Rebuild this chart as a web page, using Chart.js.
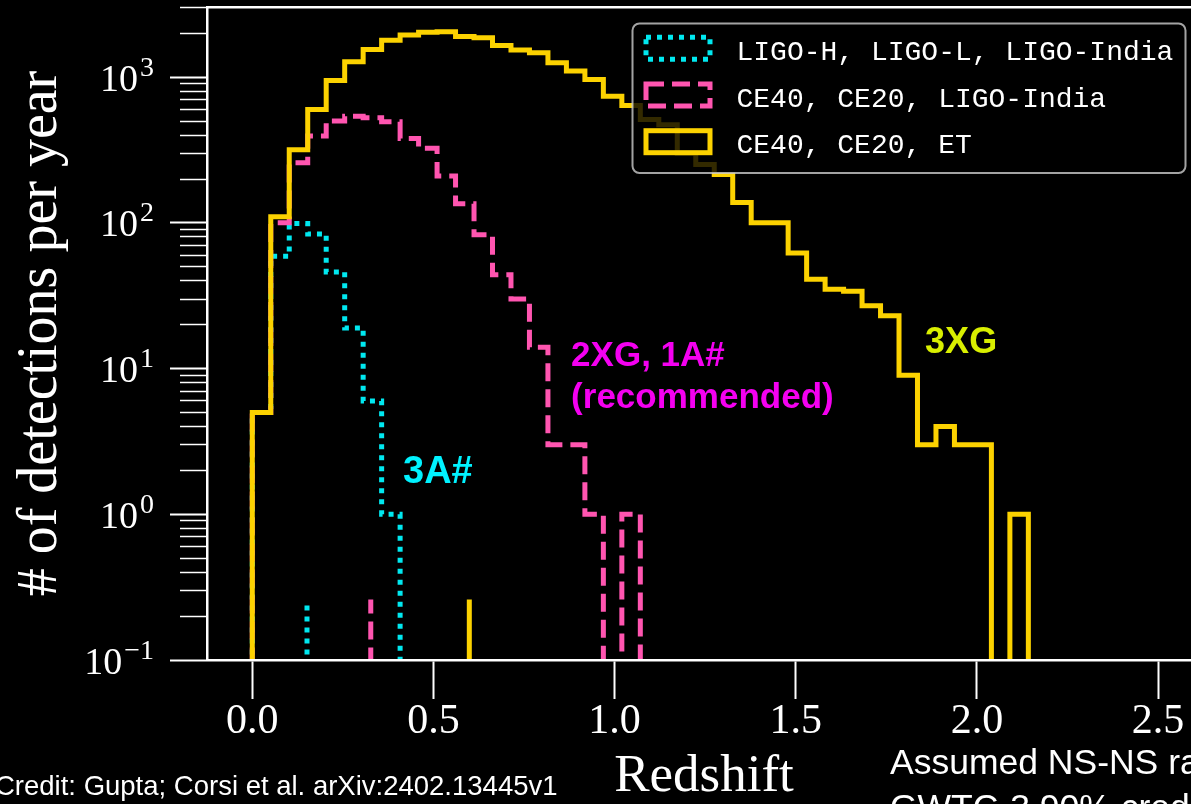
<!DOCTYPE html>
<html lang="en">
<head>
<meta charset="utf-8">
<title>Detections per year vs redshift</title>
<script src="https://cdn.jsdelivr.net/npm/chart.js@4.4.1/dist/chart.umd.min.js"></script>
<style>
  html, body { margin: 0; padding: 0; background: #000; overflow: hidden; }
  canvas { display: block; }
</style>
</head>
<body>
<canvas id="hist" width="1201" height="804"></canvas>
<script>
// Redshift bin edges: 42 equal-width bins
const BIN_EDGES = [
  0.000, 0.051, 0.102, 0.153, 0.204, 0.255, 0.306, 0.357, 0.408, 0.459,
  0.510, 0.561, 0.612, 0.663, 0.714, 0.765, 0.816, 0.867, 0.918, 0.969,
  1.020, 1.071, 1.122, 1.173, 1.224, 1.275, 1.326, 1.377, 1.428, 1.479,
  1.530, 1.581, 1.632, 1.683, 1.734, 1.785, 1.836, 1.887, 1.938, 1.989,
  2.040, 2.091, 2.142
];

// Detections per year in each bin
// LIGO-H, LIGO-L, LIGO-India (3A#)
const COUNTS_3A = [
  5, 59, 99, 84, 46, 19, 6, 1, 0, 0,
  0, 0, 0, 0, 0, 0, 0, 0, 0, 0,
  0, 0, 0, 0, 0, 0, 0, 0, 0, 0,
  0, 0, 0, 0, 0, 0, 0, 0, 0, 0,
  0, 0
];
// CE40, CE20, LIGO-India (2XG, 1A#)
const COUNTS_2XG = [
  5, 100, 259, 394, 500, 540, 527, 495, 380, 325,
  210, 135, 83, 44, 30, 14, 3, 3, 1, 0,
  1, 0, 0, 0, 0, 0, 0, 0, 0, 0,
  0, 0, 0, 0, 0, 0, 0, 0, 0, 0,
  0, 0
];
// CE40, CE20, ET (3XG)
const COUNTS_3XG = [
  5, 110, 318, 600, 950, 1275, 1550, 1795, 1945, 2035,
  2050, 1900, 1865, 1650, 1535, 1470, 1255, 1100, 965, 740,
  640, 512, 472, 300, 252, 215, 138, 100, 100, 62,
  41, 35, 34, 27, 23, 9, 3, 4, 3, 3,
  0, 1
];

// Median redshift of the detected population for each network
const MEDIAN_3A = 0.151;
const MEDIAN_2XG = 0.327;
const MEDIAN_3XG = 0.599;

const SERIES_NAMES = [
  'LIGO-H, LIGO-L, LIGO-India',
  'CE40, CE20, LIGO-India',
  'CE40, CE20, ET'
];

const X_TICKS = [0, 0.5, 1.0, 1.5, 2.0, 2.5];
const X_TICK_LABELS = ['0.0', '0.5', '1.0', '1.5', '2.0', '2.5'];
const Y_MAJOR_TICKS = [0.1, 1, 10, 100, 1000];
const Y_TICK_BASE = '10';
const Y_TICK_EXPONENTS = ['\u22121', '0', '1', '2', '3'];
const Y_MINOR_TICKS = [
  0.2, 0.3, 0.4, 0.5, 0.6, 0.7, 0.8, 0.9,
  2, 3, 4, 5, 6, 7, 8, 9,
  20, 30, 40, 50, 60, 70, 80, 90,
  200, 300, 400, 500, 600, 700, 800, 900,
  2000, 3000
];

// Axis limits
const X_MIN = -0.125, X_MAX = 2.6185;
const Y_MIN = 0.1, Y_MAX = 3030;

// Empty bins sit below the log axis and are clipped away, like a log-scale step histogram
const BELOW_AXIS = 1e-3;
// Height of the short median markers along the bottom axis
const MARKER_TOP = 0.26;

const CYAN = '#00e8f0';
const PINK = '#ff55b0';
const GOLD = '#fcd200';

function stepPoints(counts) {
  const pts = [{ x: BIN_EDGES[0], y: BELOW_AXIS }];
  counts.forEach((c, i) => pts.push({ x: BIN_EDGES[i], y: c > 0 ? c : BELOW_AXIS }));
  pts.push({ x: BIN_EDGES[counts.length], y: BELOW_AXIS });
  return pts;
}
function markerPoints(z) {
  return [{ x: z, y: BELOW_AXIS }, { x: z, y: MARKER_TOP }];
}

const common = {
  pointRadius: 0, fill: false, clip: 0, borderWidth: 5,
  borderCapStyle: 'butt', borderJoinStyle: 'miter', tension: 0
};
const styles = [
  { borderColor: CYAN, borderDash: [5, 6], order: 3 },
  { borderColor: PINK, borderDash: [18, 8], order: 2 },
  { borderColor: GOLD, borderDash: [], order: 1 }
];

const datasets = [
  { ...common, ...styles[0], label: SERIES_NAMES[0], data: stepPoints(COUNTS_3A), stepped: 'before', inLegend: true },
  { ...common, ...styles[1], label: SERIES_NAMES[1], data: stepPoints(COUNTS_2XG), stepped: 'before', inLegend: true },
  { ...common, ...styles[2], label: SERIES_NAMES[2], data: stepPoints(COUNTS_3XG), stepped: 'before', inLegend: true },
  { ...common, ...styles[0], label: 'median 3A#', data: markerPoints(MEDIAN_3A), inLegend: false },
  { ...common, ...styles[1], label: 'median 2XG', data: markerPoints(MEDIAN_2XG), inLegend: false },
  { ...common, ...styles[2], label: 'median 3XG', data: markerPoints(MEDIAN_3XG), inLegend: false }
];

// Framed legend, semi-transparent over the data like a matplotlib legend
const framedLegend = {
  id: 'framedLegend',
  afterDatasetsDraw(chart, args, o) {
    const ctx = chart.ctx;
    const items = chart.data.datasets.filter(d => d.inLegend);
    ctx.save();
    ctx.beginPath();
    ctx.roundRect(o.x, o.y, o.width, o.height, o.radius);
    ctx.fillStyle = o.fill;
    ctx.fill();
    ctx.lineWidth = o.borderWidth;
    ctx.strokeStyle = o.borderColor;
    ctx.stroke();
    items.forEach((d, i) => {
      const cy = o.firstRow + i * o.rowGap;
      ctx.setLineDash(d.borderDash || []);
      ctx.lineWidth = d.borderWidth;
      ctx.strokeStyle = d.borderColor;
      ctx.lineCap = 'butt';
      ctx.lineJoin = 'miter';
      ctx.strokeRect(o.handleX, cy - o.handleH / 2, o.handleW, o.handleH);
      ctx.setLineDash([]);
      ctx.fillStyle = o.color;
      ctx.font = o.font;
      ctx.textBaseline = 'alphabetic';
      ctx.textAlign = 'left';
      ctx.fillText(d.label, o.textX, cy + o.baselineShift);
    });
    ctx.restore();
  }
};

// Bold labels placed in data coordinates next to each curve
const curveLabels = {
  id: 'curveLabels',
  afterDatasetsDraw(chart, args, o) {
    const { ctx, scales } = chart;
    ctx.save();
    ctx.textBaseline = 'alphabetic';
    ctx.textAlign = 'left';
    o.items.forEach(it => {
      ctx.font = `bold ${it.size}px "Liberation Sans", Arial, sans-serif`;
      ctx.fillStyle = it.color;
      const px = scales.x.getPixelForValue(it.x);
      const py = scales.y.getPixelForValue(it.y);
      it.lines.forEach((line, k) => ctx.fillText(line, px, py + k * (it.lineGap || 0)));
    });
    ctx.restore();
  }
};

// Power-of-ten labels on the log axis, with a raised exponent
const powerLabels = {
  id: 'powerLabels',
  afterDraw(chart, args, o) {
    const ctx = chart.ctx;
    const scale = chart.scales.y;
    ctx.save();
    ctx.fillStyle = o.color;
    ctx.textBaseline = 'alphabetic';
    ctx.textAlign = 'left';
    Y_MAJOR_TICKS.forEach((v, i) => {
      const py = scale.getPixelForValue(v);
      ctx.font = o.expFont;
      const ew = ctx.measureText(Y_TICK_EXPONENTS[i]).width;
      ctx.font = o.baseFont;
      const bw = ctx.measureText(Y_TICK_BASE).width;
      const xe = o.right - ew;
      ctx.fillText(Y_TICK_BASE, xe - o.gap - bw, py + o.baseShift);
      ctx.font = o.expFont;
      ctx.fillText(Y_TICK_EXPONENTS[i], xe, py + o.baseShift - o.raise);
    });
    ctx.restore();
  }
};

// Captions around the plot
const captions = {
  id: 'captions',
  afterDraw(chart, args, o) {
    const ctx = chart.ctx;
    ctx.save();
    ctx.textBaseline = 'alphabetic';
    ctx.textAlign = 'left';
    o.items.forEach(it => {
      ctx.font = it.font;
      ctx.fillStyle = it.color;
      ctx.fillText(it.text, it.x, it.y);
    });
    ctx.restore();
  }
};

const serif = '"Liberation Serif", "Times New Roman", serif';

new Chart(document.getElementById('hist'), {
  type: 'line',
  data: { datasets },
  plugins: [framedLegend, curveLabels, powerLabels, captions],
  options: {
    responsive: false,
    animation: false,
    events: [],
    layout: { padding: { top: 7, left: 0, right: 0, bottom: 0 } },
    plugins: {
      legend: { display: false },
      tooltip: { enabled: false },
      framedLegend: {
        x: 632.5, y: 23.5, width: 553, height: 149.5, radius: 7,
        fill: 'rgba(0,0,0,0.8)', borderColor: 'rgba(204,204,204,0.8)', borderWidth: 2,
        firstRow: 48.3, rowGap: 46.7,
        handleX: 646, handleW: 64, handleH: 22,
        textX: 736.5, baselineShift: 11.5,
        font: '28px "Liberation Mono", "Courier New", monospace', color: '#fff'
      },
      curveLabels: {
        items: [
          { lines: ['3A#'], x: 0.416, y: 1.643, color: '#00f2ff', size: 38 },
          { lines: ['2XG, 1A#', '(recommended)'], x: 0.880, y: 10.35, color: '#f400f0', size: 35, lineGap: 41.6 },
          { lines: ['3XG'], x: 1.857, y: 12.8, color: '#d9ef00', size: 36 }
        ]
      },
      powerLabels: {
        color: '#fff', right: 154, gap: 2, baseShift: 13.5, raise: 15,
        baseFont: `38px ${serif}`, expFont: `28px ${serif}`
      },
      captions: {
        items: [
          { text: 'Credit: Gupta; Corsi et al. arXiv:2402.13445v1', x: -5, y: 795,
            font: '27.5px "Liberation Sans", Arial, sans-serif', color: '#fff' },
          { text: 'Assumed NS-NS rate', x: 890, y: 774,
            font: '35.5px "Liberation Sans", Arial, sans-serif', color: '#fff' },
          { text: 'GWTC-3 90% credible', x: 890, y: 819,
            font: '35.5px "Liberation Sans", Arial, sans-serif', color: '#fff' }
        ]
      }
    },
    scales: {
      x: {
        type: 'linear', position: 'bottom', min: X_MIN, max: X_MAX,
        afterBuildTicks: s => { s.ticks = X_TICKS.map(v => ({ value: v })); },
        afterFit: s => { s.height = 144; s.paddingLeft = 0; s.paddingRight = 0; },
        ticks: {
          color: '#fff', padding: 2, maxRotation: 0, autoSkip: false,
          font: { family: serif, size: 42, lineHeight: 1 },
          callback: (v, i) => X_TICK_LABELS[i]
        },
        grid: { display: true, drawOnChartArea: false, drawTicks: true, tickLength: 39, tickWidth: 2, tickColor: '#fff', color: '#fff' },
        border: { display: true, color: '#fff', width: 2.5, z: 1 },
        title: {
          display: true, text: 'Redshift', color: '#fff',
          font: { family: serif, size: 53, lineHeight: 1 },
          padding: { top: 0, bottom: 0 }
        }
      },
      xTop: {
        type: 'linear', position: 'top', min: X_MIN, max: X_MAX,
        ticks: { display: false },
        grid: { display: false, drawTicks: false },
        border: { display: true, color: '#fff', width: 2.5, z: 1 },
        afterFit: s => { s.height = 0; }
      },
      y: {
        type: 'logarithmic', position: 'left', min: Y_MIN, max: Y_MAX, weight: 1,
        afterBuildTicks: s => { s.ticks = Y_MAJOR_TICKS.map(v => ({ value: v, major: true })); },
        afterFit: s => { s.width = 207; s.paddingTop = 0; s.paddingBottom = 0; },
        ticks: { display: false },
        grid: { display: true, drawOnChartArea: false, drawTicks: true, tickLength: 37, tickWidth: 2, tickColor: '#fff', color: '#fff' },
        border: { display: true, color: '#fff', width: 2.5, z: 1 },
        title: {
          display: true, text: '# of detections per year', color: '#fff',
          font: { family: serif, size: 56, lineHeight: 1 },
          padding: { top: 13, bottom: 0 }
        }
      },
      yMinor: {
        type: 'logarithmic', position: 'left', min: Y_MIN, max: Y_MAX, weight: 0,
        afterBuildTicks: s => { s.ticks = Y_MINOR_TICKS.map(v => ({ value: v })); },
        afterFit: s => { s.width = 0; s.paddingTop = 0; s.paddingBottom = 0; },
        ticks: { display: false },
        grid: { display: true, drawOnChartArea: false, drawTicks: true, tickLength: 27, tickWidth: 1.5, tickColor: '#fff', color: '#fff' },
        border: { display: false }
      }
    }
  }
});
</script>
</body>
</html>
